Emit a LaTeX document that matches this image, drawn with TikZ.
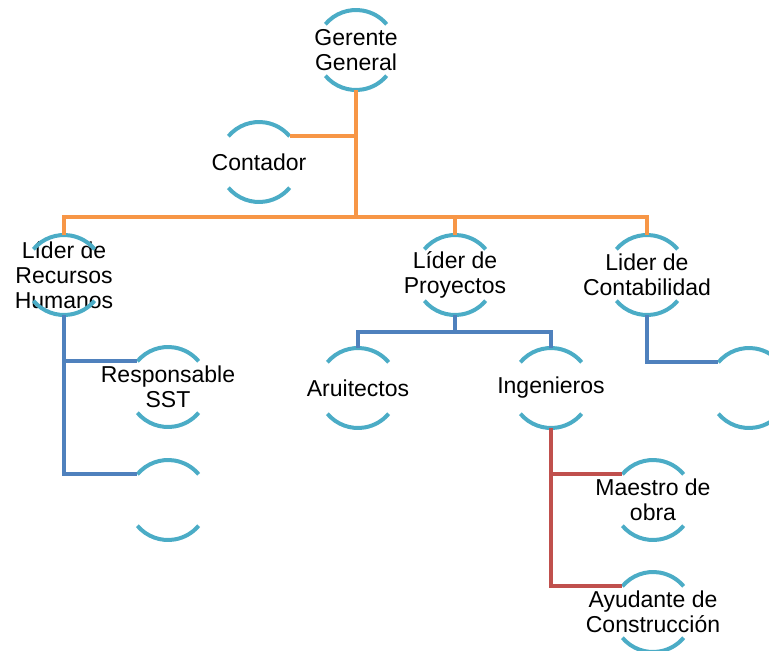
\documentclass[tikz,border=0pt]{standalone}
\usepackage{fontspec}
\setmainfont{Liberation Sans}
\definecolor{arcblue}{HTML}{4BACC6}
\definecolor{linkorange}{HTML}{F79646}
\definecolor{linkblue}{HTML}{4F81BD}
\definecolor{linkred}{HTML}{C0504D}

\begin{document}
\begin{tikzpicture}[x=1pt, y=-1pt,
  ring/.style={circle, minimum size=80pt, inner sep=0pt, outer sep=0pt},
  every label/.style={align=center, font=\fontsize{23}{25}\selectfont, inner sep=0pt},
  rim/.style={color=arcblue, line width=4pt},
  orangeline/.style={color=linkorange, line width=4pt},
  blueline/.style={color=linkblue, line width=4pt},
  redline/.style={color=linkred, line width=4pt}]
\clip (0,0) rectangle (769,651);

\node[ring, label=center:{Gerente\\General}] (gerente) at (356,50) {};
\node[ring, label=center:{Contador}] (contador) at (259,162) {};
\node[ring, label=center:{Líder de\\Recursos\\Humanos}] (rh) at (64,275) {};
\node[ring, label=center:{Líder de\\Proyectos}] (proy) at (455,275) {};
\node[ring, label=center:{Lider de\\Contabilidad}] (conta) at (647,275) {};
\node[ring, label=center:{Responsable\\SST}] (sst) at (168,387) {};
\node[ring] (rhvacio) at (168,500) {};
\node[ring, label=center:{Aruitectos}] (arq) at (358,388) {};
\node[ring, label=center:{Ingenieros}] (ing) at (551,388) {};
\node[ring] (contavacio) at (749,388) {};
\node[ring, label=center:{Maestro de\\obra}] (maestro) at (653,500) {};
\node[ring, label=center:{Ayudante de\\Construcción}] (ayudante) at (653,612) {};

\foreach \n in {gerente,contador,rh,proy,conta,sst,rhvacio,arq,ing,contavacio,maestro,ayudante} {
  \draw[rim] (\n.140) arc[start angle=140, end angle=40, radius=40pt];
  \draw[rim] (\n.220) arc[start angle=220, end angle=320, radius=40pt];
}

\coordinate (bus) at (356,217);
\coordinate (pbus) at (455,332);
\draw[orangeline] (gerente.south) -- (bus);
\draw[orangeline] (contador.40) -- (contador.40 -| gerente.south);
\draw[orangeline] (rh.north) |- (bus) -| (conta.north);
\draw[orangeline] (bus) -| (proy.north);
\draw[blueline] (rh.south) |- (sst.140);
\draw[blueline] (rh.south) |- (rhvacio.140);
\draw[blueline] (proy.south) -- (pbus);
\draw[blueline] (arq.north) |- (pbus) -| (ing.north);
\draw[blueline] (conta.south) |- (contavacio.140);
\draw[redline] (ing.south) |- (maestro.140);
\draw[redline] (ing.south) |- (ayudante.140);
\end{tikzpicture}
\end{document}
